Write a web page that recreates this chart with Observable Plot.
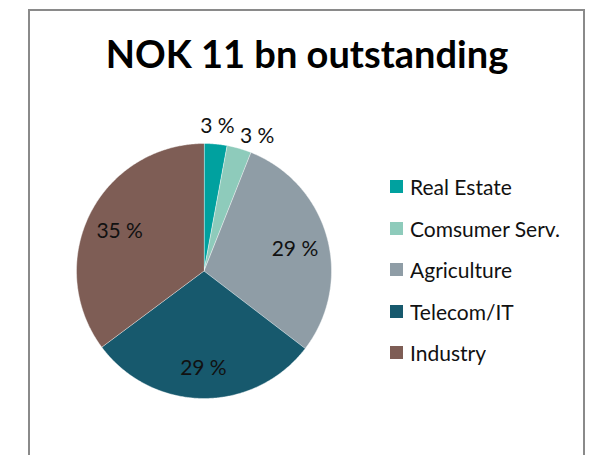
<!DOCTYPE html>
<html>
<head>
<meta charset="utf-8">
<script src="https://cdn.jsdelivr.net/npm/d3@7"></script>
<script src="https://cdn.jsdelivr.net/npm/@observablehq/plot@0.6"></script>
<style>
  html, body { margin: 0; padding: 0; background: #fff; }
  #wrap { position: relative; width: 590px; height: 455px; overflow: hidden; font-family: Lato, "Open Sans", sans-serif; }
  #frame { position: absolute; left: 28px; top: 9px; width: 557px; height: 470px; border: 2px solid #8a8a8a; box-sizing: border-box; }
  #title { position: absolute; left: 29px; width: 556px; top: 30px; text-align: center; font-weight: bold; font-size: 38px; line-height: 46px; color: #000; }
  #chart { position: absolute; left: 0; top: 0; }
  #legend { position: absolute; left: 390px; top: 166px; }
  .leg-swatches { margin: 0 !important; min-height: 0 !important; }
  .leg-swatch { height: 41.5px !important; padding: 0 !important; margin: 0 !important; display: flex !important; align-items: center !important; font-family: Lato, "Open Sans", sans-serif !important; font-size: 21px !important; color: #111 !important; white-space: nowrap; }
  .leg-swatch svg { margin-right: 7px !important; }
</style>
</head>
<body>
<div id="wrap">
  <div id="frame"></div>
  <div id="title"></div>
  <div id="chart"></div>
  <div id="legend"></div>
</div>
<script>
const title = "NOK 11 bn outstanding";
const categories = ["Real Estate", "Comsumer Serv.", "Agriculture", "Telecom/IT", "Industry"];
const shares = [2.9, 3.1, 29.4, 29.4, 35.2];
const colors = ["#00a19f", "#8ecbbb", "#8f9da6", "#17596d", "#7e5d55"];

document.getElementById("title").textContent = title;

// pie geometry (in unit-circle data space)
const total = d3.sum(shares);
const arcs = d3.pie().sort(null).value(d => d)(shares);
const slices = [];
arcs.forEach((a, i) => {
  slices.push({cat: categories[i], x: 0, y: 0});
  const n = Math.max(2, Math.ceil((a.endAngle - a.startAngle) / (Math.PI / 360)));
  for (let k = 0; k <= n; k++) {
    const t = a.startAngle + (a.endAngle - a.startAngle) * k / n;
    slices.push({cat: categories[i], x: Math.sin(t), y: Math.cos(t)});
  }
});

// labels
const cx = 203.5, cy = 270.5, r = 127.5, fs = 21;
const labels = arcs.map((a, i) => {
  const mid = (a.startAngle + a.endAngle) / 2;
  const pct = shares[i] / total * 100;
  const outside = pct < 10;
  return {text: `${Math.round(pct)} %`, angle: mid, rad: outside ? 1.16 : 0.74, outside};
});
// simple overlap avoidance for outside labels (push clockwise)
const estW = s => s.length * fs * 0.55;
let prev = null;
for (const L of labels) {
  if (!L.outside) { prev = null; continue; }
  if (prev) {
    const pw = estW(prev.text), w = estW(L.text);
    let guard = 0;
    while (guard++ < 400) {
      const px = Math.sin(prev.angle) * prev.rad * r, py = -Math.cos(prev.angle) * prev.rad * r;
      const x = Math.sin(L.angle) * L.rad * r, y = -Math.cos(L.angle) * L.rad * r;
      const overlapX = (x - w / 2) < (px + pw / 2 + 5);
      const overlapY = Math.abs(y - py) < fs;
      if (overlapX && overlapY) L.angle += 0.002; else break;
    }
  }
  prev = L;
}
labels.forEach(L => { L.x = Math.sin(L.angle) * L.rad; L.y = Math.cos(L.angle) * L.rad; });

const chart = Plot.plot({
  width: 590, height: 455,
  margin: 0,
  style: {background: "transparent", overflow: "visible"},
  x: {domain: [-1, 1], range: [cx - r, cx + r], axis: null},
  y: {domain: [-1, 1], range: [cy + r, cy - r], axis: null},
  color: {domain: categories, range: colors},
  marks: [
    Plot.line(slices, {x: "x", y: "y", z: "cat", fill: "cat", stroke: "#ffffff", strokeWidth: 0.7, strokeOpacity: 0.6, curve: "linear-closed"}),
    Plot.text(labels, {x: "x", y: "y", text: "text", dy: 3, fontSize: fs, fontFamily: "Lato, 'Open Sans', sans-serif", fill: "#111"})
  ]
});
document.getElementById("chart").appendChild(chart);

const legend = Plot.legend({
  color: {domain: categories, range: colors},
  columns: 1,
  swatchSize: 13,
  className: "leg"
});
document.getElementById("legend").appendChild(legend);
</script>
</body>
</html>
